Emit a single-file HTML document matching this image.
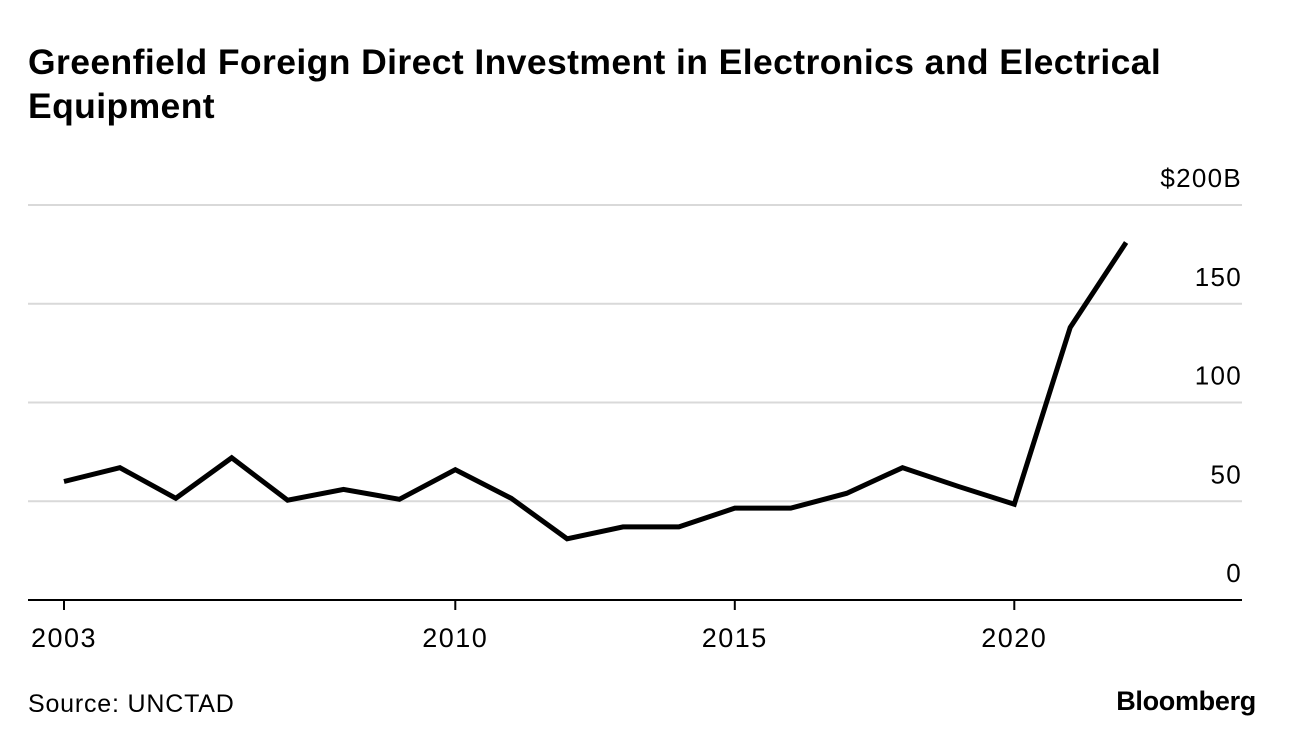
<!DOCTYPE html>
<html><head><meta charset="utf-8"><style>
body{margin:0;background:#fff;width:1296px;height:748px;overflow:hidden;font-family:"Liberation Sans",sans-serif;}
.title{position:absolute;left:28px;top:40px;font-size:35.5px;font-weight:bold;line-height:44px;color:#000;letter-spacing:0.4px;white-space:nowrap}
.src{position:absolute;left:28px;top:690px;font-size:25px;color:#000;letter-spacing:0.8px}
.brand{position:absolute;right:40px;top:686px;font-size:27px;font-weight:bold;color:#000;letter-spacing:-0.3px}
svg{position:absolute;left:0;top:0}
</style></head><body>
<div class="title">Greenfield Foreign Direct Investment in Electronics and Electrical<br>Equipment</div>
<svg width="1296" height="748" id="chart"></svg>
<div class="src">Source: UNCTAD</div>
<div class="brand">Bloomberg</div>
<script>
const years=[2003,2004,2005,2006,2007,2008,2009,2010,2011,2012,2013,2014,2015,2016,2017,2018,2019,2020,2021,2022];
const values=[60,67,51.5,72,50.5,56,51,66,51.5,31,37,37,46.5,46.5,54,67,57.5,48.5,138,181];
const yTicks=[0,50,100,150,200];
const yTickLabels=["0","50","100","150","$200B"];
const xTicks=[2003,2010,2015,2020];
const NS="http://www.w3.org/2000/svg";
const svg=document.getElementById('chart');
const x=v=>64+(v-2003)*55.9;
const y=v=>600-v*1.975;
function mk(t,a){const e=document.createElementNS(NS,t);for(const k in a)e.setAttribute(k,a[k]);svg.appendChild(e);return e;}
yTicks.forEach((t,i)=>{
  if(t>0){const g=mk('line',{x1:28,x2:1242,y1:y(t),y2:y(t),stroke:'#d9d9d9','stroke-width':2});
  
  }
  const l=mk('text',{x:1242,y:y(t)-18,'text-anchor':'end','font-size':26,'letter-spacing':1.3,fill:'#000'});
  l.textContent=yTickLabels[i];
  
  
});
const ax=mk('line',{x1:28,x2:1242,y1:600,y2:600,stroke:'#000','stroke-width':2});


xTicks.forEach(t=>{
  const tk=mk('line',{x1:x(t),x2:x(t),y1:600,y2:610,stroke:'#000','stroke-width':2});
  
  
  const l=mk('text',{x:x(t),y:647,'text-anchor':'middle','font-size':27,'letter-spacing':1.5,fill:'#000'});
  l.textContent=t;
  
  
});
const p=mk('polyline',{points:years.map((yr,i)=>x(yr)+','+y(values[i])).join(' '),fill:'none',stroke:'#000','stroke-width':5,'stroke-linejoin':'miter'});


</script>
</body></html>
